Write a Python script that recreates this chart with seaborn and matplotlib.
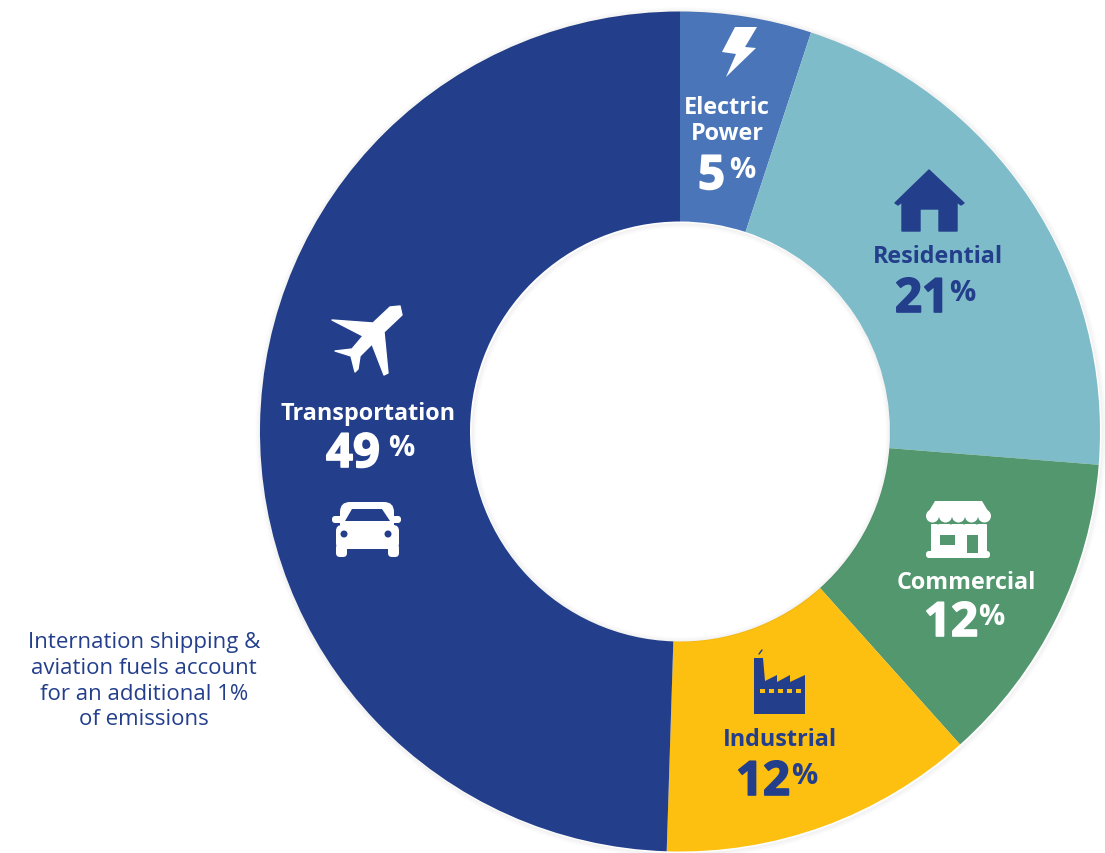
import matplotlib
matplotlib.use('Agg')
import matplotlib.pyplot as plt
import matplotlib.patheffects as pe
import seaborn as sns
from matplotlib.patches import Polygon, FancyBboxPatch, Circle, Rectangle

# sectors, clockwise from 12 o'clock
sectors = ['Electric Power', 'Residential', 'Commercial', 'Industrial', 'Transportation']
shares = [5, 21, 12, 12, 49]
sector_colors = ['#4A76B9', '#7FBCC9', '#53976F', '#FDBF10', '#233F8C']
note_lines = ['Internation shipping &', 'aviation fuels account', 'for an additional 1%', 'of emissions']

NAVY = '#233F8C'
W, H = 1105, 854
CX, CY, R = 680, 432.5, 420

sns.set_theme(style='white')
plt.rcParams['font.family'] = ['Open Sans', 'DejaVu Sans']

fig = plt.figure(figsize=(W / 100, H / 100), dpi=100, facecolor='white')

ax = fig.add_axes([(CX - R) / W, 1 - (CY + R) / H, 2 * R / W, 2 * R / H])
ax.pie(shares, colors=sns.color_palette(sector_colors), startangle=90, counterclock=False,
       radius=1, wedgeprops=dict(width=0.5, linewidth=0))
ax.set_xlim(-1, 1)
ax.set_ylim(-1, 1)

# overlay in pixel coordinates for the labels and pictograms
ov = fig.add_axes([0, 0, 1, 1], zorder=3)
ov.set_xlim(0, W)
ov.set_ylim(H, 0)
ov.axis('off')

# faint drop shadow on the ring edges
for i in range(1, 6):
    ov.add_patch(Circle((CX + 1, CY + 1), R + i, fill=False, ec='black', lw=1, alpha=0.008 * (6 - i), zorder=0))
    ov.add_patch(Circle((CX + 1, CY + 1), R / 2 - i, fill=False, ec='black', lw=1, alpha=0.008 * (6 - i), zorder=0))


def label(x, y, s, color):
    ov.text(x, y, s, color=color, fontsize=16.8, fontweight='bold', ha='center', va='baseline')


def pct(x_num, x_sign, y, num, color):
    t = ov.text(x_num, y, num, color=color, fontsize=34, fontweight='bold', ha='left', va='baseline')
    t.set_path_effects([pe.withStroke(linewidth=1.2, foreground=color)])
    ov.text(x_sign, y - 12, '%', color=color, fontsize=21, fontweight='bold', ha='left', va='baseline')


def poly(points, color, z=2, lw=0.0, **kw):
    ov.add_patch(Polygon(points, closed=True, fc=color, ec=color, lw=lw, zorder=z, joinstyle='round', **kw))


def box(x0, y0, x1, y1, color, rad=2, z=2):
    ov.add_patch(FancyBboxPatch((x0 + rad, y0 + rad), x1 - x0 - 2 * rad, y1 - y0 - 2 * rad,
                                boxstyle=f'round,pad={rad},rounding_size={rad}', fc=color, ec='none', zorder=z))


# text
label(727, 114, 'Electric', 'white')
label(727, 140, 'Power', 'white')
pct(698, 729, 190, '5', 'white')
label(938, 263, 'Residential', NAVY)
pct(895, 949, 313, '21', NAVY)
label(966, 589, 'Commercial', 'white')
pct(924, 978, 637, '12', 'white')
label(780, 746, 'Industrial', NAVY)
pct(736, 791, 796, '12', NAVY)
label(368, 420, 'Transportation', 'white')
pct(326, 388, 468, '49', 'white')

for line, y in zip(note_lines, [648, 674, 700, 725]):
    ov.text(144, y, line, color=NAVY, fontsize=16, fontweight='medium', ha='center', va='baseline')

# bolt
poly([(735, 28), (757, 28), (745, 48), (756, 49), (726, 78), (736, 55), (722, 53)], 'white')

# house
poly([(895, 204), (929, 171), (964, 204), (961, 206), (957, 203), (957, 232), (939, 232),
      (939, 210), (920, 210), (920, 232), (902, 232), (902, 203), (898, 206)], NAVY, lw=1)

# plane
poly([(332, 321), (373, 324), (390, 308), (400, 307), (402, 316), (384, 333), (388, 374), (384, 376),
      (372, 345), (360, 357), (358, 370), (355, 373), (351, 357), (335, 352), (352, 350), (363, 337)],
     'white', lw=1)

# car
box(340, 503, 394, 540, 'white', rad=10)
box(336, 526, 399, 550, 'white', rad=6)
box(332, 517, 345, 524, 'white', rad=3)
box(389, 517, 401, 524, 'white', rad=3)
box(336, 545, 347, 558, 'white', rad=4)
box(388, 545, 399, 558, 'white', rad=4)
poly([(345, 522), (352, 510), (382, 510), (390, 522)], NAVY, z=3)
ov.add_patch(Circle((344, 535), 3.5, fc=NAVY, ec='none', zorder=3))
ov.add_patch(Circle((388, 535), 3.5, fc=NAVY, ec='none', zorder=3))

# store
poly([(935, 502), (982, 502), (991, 517), (926, 517)], 'white')
for sx in range(926, 991, 13):
    ov.add_patch(Circle((sx + 6.5, 517), 6.5, fc='white', ec='none', zorder=2))
box(931, 525, 987, 558, 'white', rad=1)
box(926, 552, 990, 559, 'white', rad=3, z=3)
ov.add_patch(Rectangle((940, 536), 15, 10, fc='#53976F', ec='none', zorder=3))
ov.add_patch(Rectangle((967, 536), 11, 18, fc='#53976F', ec='none', zorder=3))
for sx in range(931, 985, 13):
    ov.add_patch(Circle((sx + 7, 524), 1.5, fc='#53976F', ec='none', zorder=3))

# factory
poly([(754, 715), (754, 659), (763, 659), (765, 682), (777, 676), (777, 683), (790, 676), (790, 683),
      (805, 676), (805, 715)], NAVY)
ov.plot([759, 762], [655, 651], color=NAVY, lw=1, zorder=2)
for wx in range(760, 804, 9):
    ov.add_patch(Rectangle((wx, 690), 5, 4, fc='#FDBF10', ec='none', zorder=3))

fig.savefig('out.png', dpi=100)
